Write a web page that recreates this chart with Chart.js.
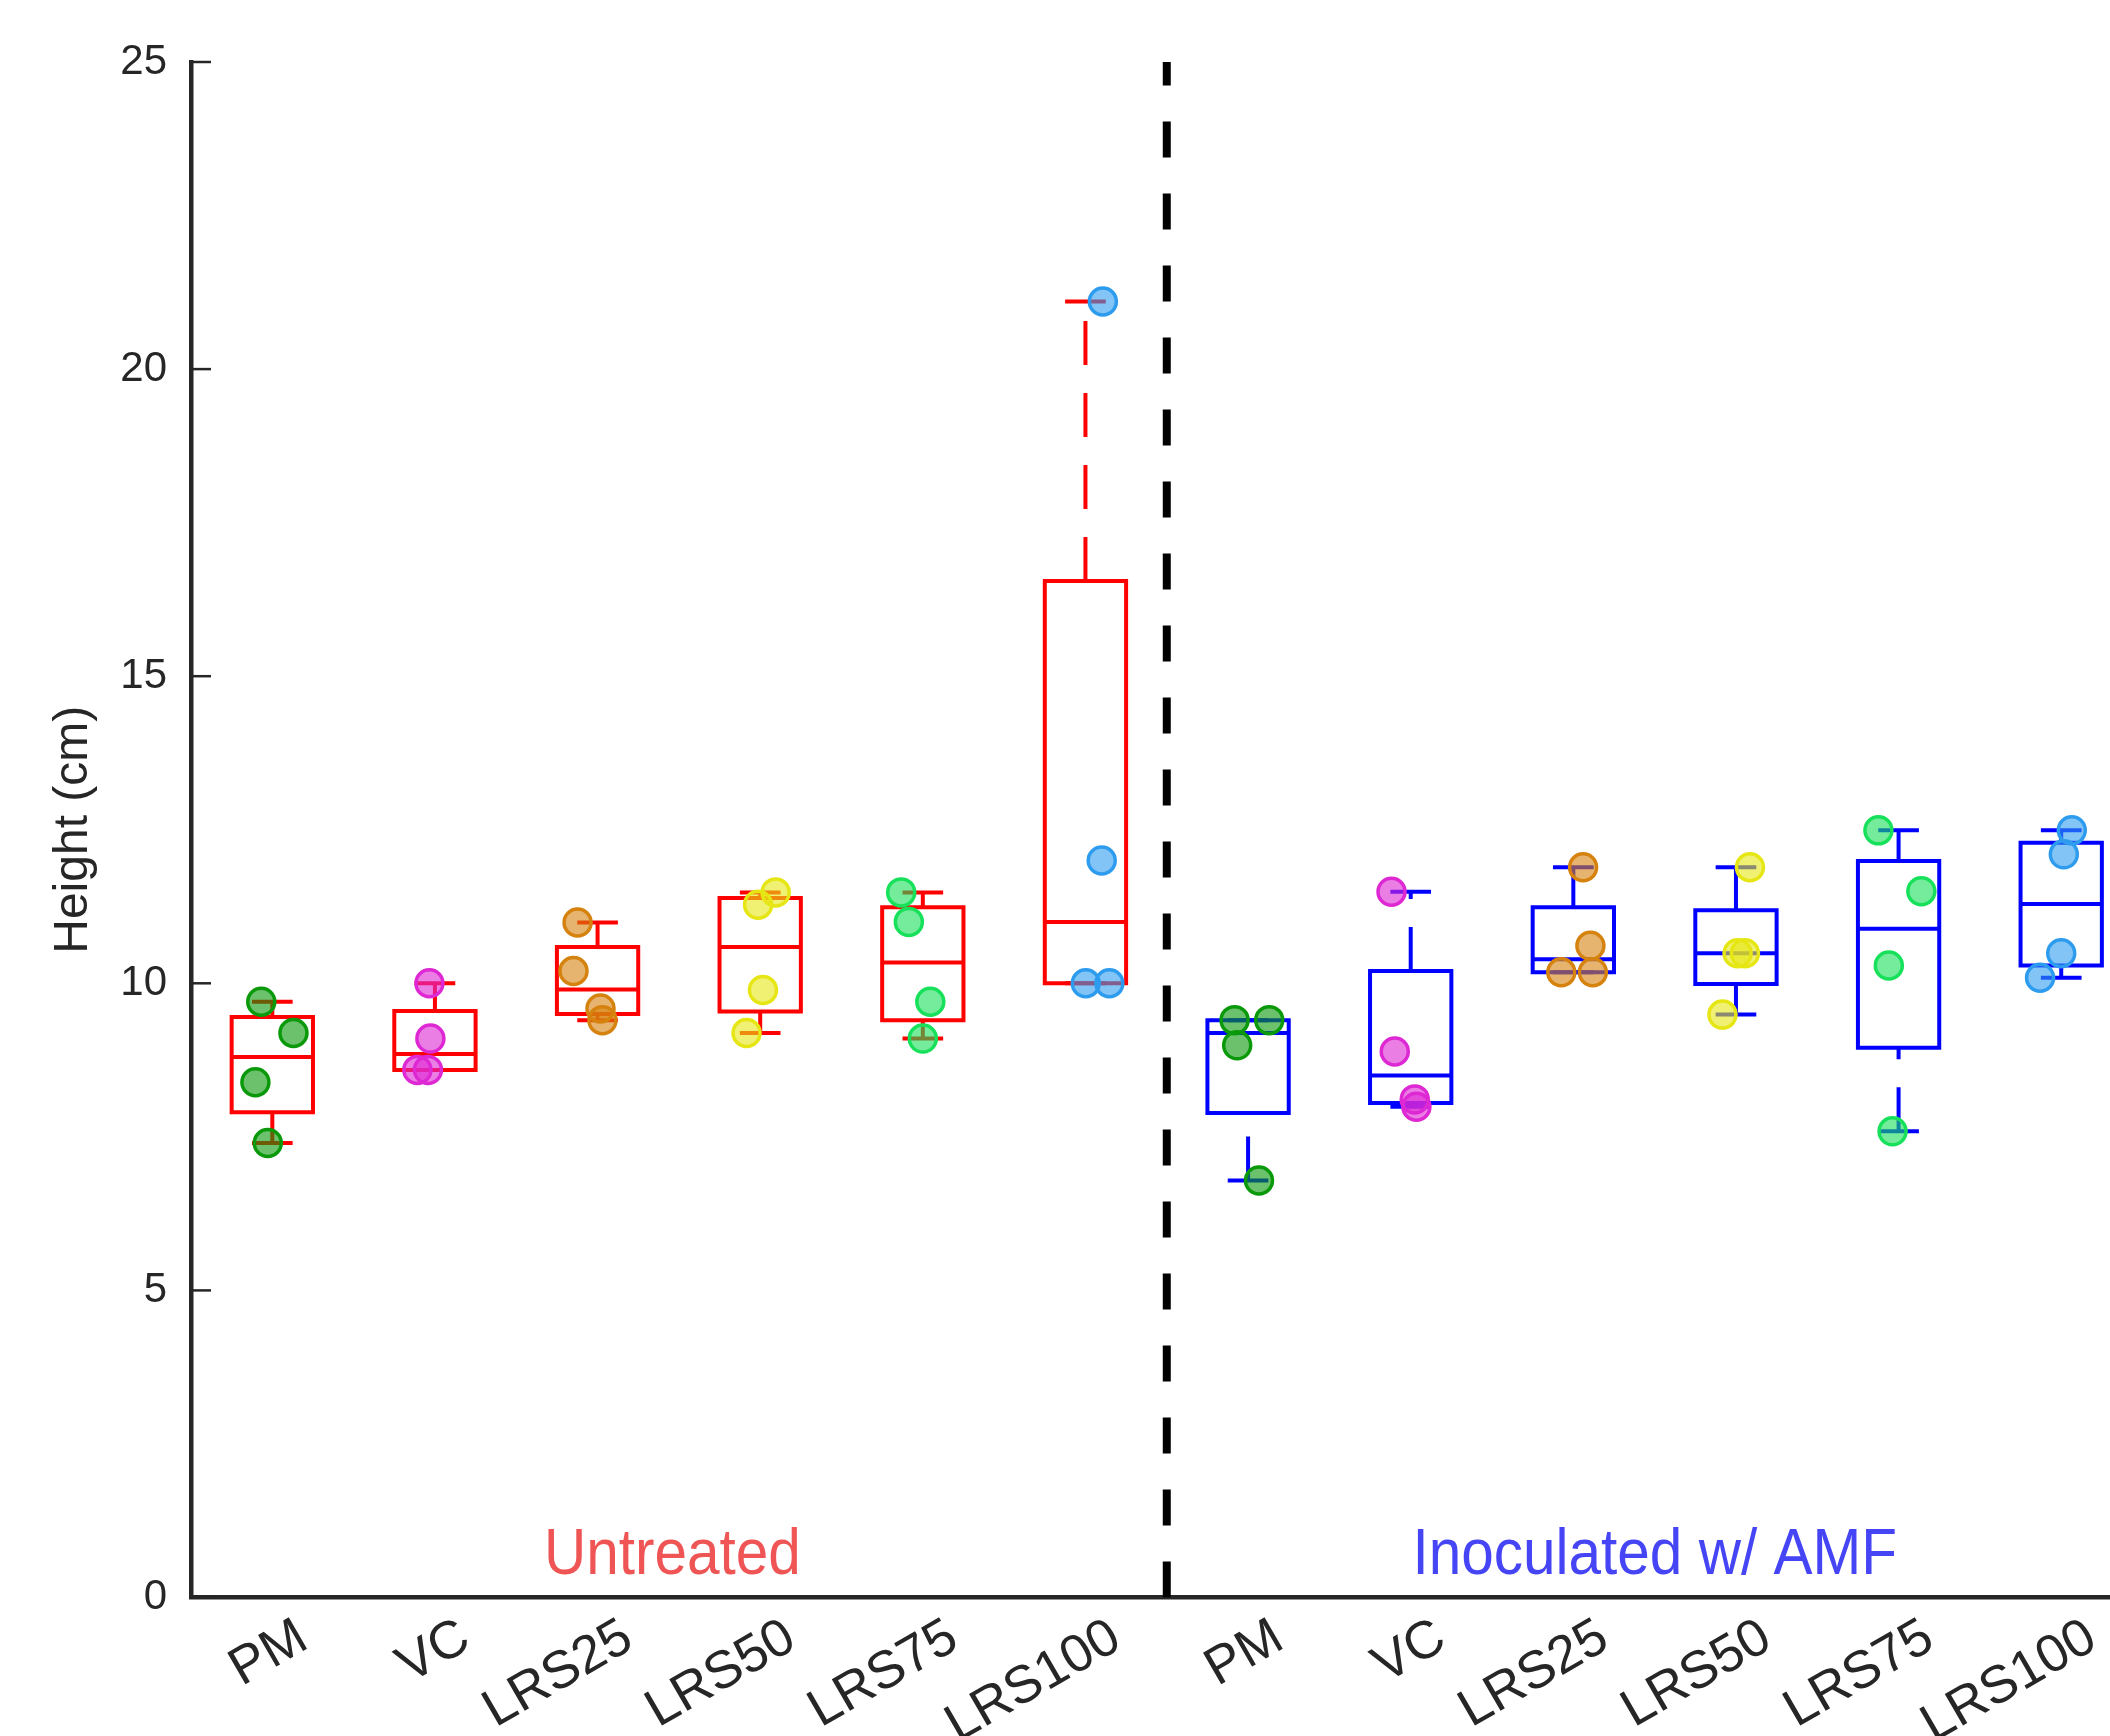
<!DOCTYPE html>
<html>
<head>
<meta charset="utf-8">
<title>Height (cm)</title>
<script src="https://cdn.jsdelivr.net/npm/chart.js@4.4.1/dist/chart.umd.min.js"></script>
<style>
  html, body { margin: 0; padding: 0; background: #fff; overflow: hidden; }
  #wrap { width: 2110px; height: 1736px; }
</style>
</head>
<body>
<div id="wrap"><canvas id="chart" width="2110" height="1736"></canvas></div>
<script>
const categories = ['PM', 'VC', 'LRS25', 'LRS50', 'LRS75', 'LRS100'];
const groupNames = ['Untreated', 'Inoculated w/ AMF'];
const yTicks = [0, 5, 10, 15, 20, 25];

// box summaries, one value per category
const untreatedLow  = [7.40, 8.59, 9.40, 9.19, 9.10, 10.00];
const untreatedQ1   = [7.90, 8.59, 9.50, 9.54, 9.40, 10.00];
const untreatedMed  = [8.80, 8.85, 9.90, 10.59, 10.34, 11.00];
const untreatedQ3   = [9.45, 9.55, 10.59, 11.39, 11.24, 16.55];
const untreatedHigh = [9.70, 10.00, 10.99, 11.48, 11.48, 21.10];

const inoculatedLow  = [6.79, 7.99, 10.18, 9.49, 7.59, 10.09];
const inoculatedQ1   = [7.89, 8.05, 10.18, 9.99, 8.95, 10.29];
const inoculatedMed  = [9.19, 8.50, 10.39, 10.49, 10.89, 11.29];
const inoculatedQ3   = [9.40, 10.20, 11.24, 11.19, 11.99, 12.29];
const inoculatedHigh = [9.40, 11.49, 11.89, 11.89, 12.49, 12.49];

// individual plants (4 per category)
const untreatedPoints = [
  [9.70, 9.19, 8.39, 7.40],
  [10.00, 9.10, 8.59, 8.59],
  [10.99, 10.20, 9.59, 9.40],
  [11.48, 11.28, 9.89, 9.19],
  [11.48, 11.00, 9.70, 9.10],
  [21.10, 12.00, 10.00, 10.00]
];
const inoculatedPoints = [
  [9.40, 9.40, 8.99, 6.79],
  [11.49, 8.89, 8.11, 7.99],
  [11.89, 10.61, 10.18, 10.18],
  [11.89, 10.49, 10.49, 9.49],
  [12.49, 11.50, 10.29, 7.59],
  [12.49, 12.10, 10.49, 10.09]
];
// horizontal jitter of each plant, in category units
const untreatedJitter = [
  [-0.068, 0.13, -0.104, -0.028],
  [-0.034, -0.028, -0.108, -0.043],
  [-0.123, -0.148, 0.018, 0.03],
  [0.095, -0.013, 0.017, -0.084],
  [-0.133, -0.086, 0.046, 0.0],
  [0.107, 0.10, 0.002, 0.147]
];
const inoculatedJitter = [
  [-0.083, 0.13, -0.067, 0.067],
  [-0.118, -0.098, 0.025, 0.035],
  [0.06, 0.105, -0.074, 0.12],
  [0.086, 0.01, 0.055, -0.083],
  [-0.124, 0.14, -0.06, -0.037],
  [0.065, 0.016, 0.0, -0.13]
];

const tickLabels = categories.concat(categories);

const AXIS = '#262626';
const FONT = '"Liberation Sans", Arial, Helvetica, sans-serif';
const boxColors = ['#ff0000', '#0000ff'];
const labelColors = ['#ef5555', '#4545f5'];
const pointEdge = ['#0a990a', '#de28d4', '#d6820e', '#e6e614', '#17e05a', '#2e9cee'];
const HALF_BOX = 0.25;
const HALF_CAP = 0.125;
const groupLabelX = [3.46, 9.5];
const groupLabelY = 0.38;

Chart.defaults.font.family = FONT;

function withAlpha(hex, a) {
  const n = parseInt(hex.slice(1), 16);
  return 'rgba(' + (n >> 16 & 255) + ',' + (n >> 8 & 255) + ',' + (n & 255) + ',' + a + ')';
}

function lineSet(points, color, dash, cap) {
  return {
    data: points,
    showLine: true,
    borderColor: color,
    borderWidth: 4,
    borderDash: dash || [],
    borderCapStyle: cap || 'butt',
    borderJoinStyle: 'miter',
    pointRadius: 0,
    fill: false,
    order: 1
  };
}

const groups = [
  { low: untreatedLow, q1: untreatedQ1, med: untreatedMed, q3: untreatedQ3, high: untreatedHigh,
    pts: untreatedPoints, jit: untreatedJitter, start: 1 },
  { low: inoculatedLow, q1: inoculatedQ1, med: inoculatedMed, q3: inoculatedQ3, high: inoculatedHigh,
    pts: inoculatedPoints, jit: inoculatedJitter, start: 7 }
];

const datasets = [];

groups.forEach((g, gi) => {
  const color = boxColors[gi];
  categories.forEach((cat, i) => {
    const c = g.start + i;
    // box
    datasets.push(lineSet([
      {x: c - HALF_BOX, y: g.q1}, {x: c + HALF_BOX, y: g.q1},
      {x: c + HALF_BOX, y: g.q3}, {x: c - HALF_BOX, y: g.q3},
      {x: c - HALF_BOX, y: g.q1}
    ].map(p => ({x: p.x, y: p.y[i]})), color, null, 'square'));
    // median
    datasets.push(lineSet([{x: c - HALF_BOX, y: g.med[i]}, {x: c + HALF_BOX, y: g.med[i]}], color));
    // whiskers, dashed from the lower end upward like matlab
    datasets.push(lineSet([{x: c, y: g.q3[i]}, {x: c, y: g.high[i]}], color, [44, 28]));
    datasets.push(lineSet([{x: c, y: g.low[i]}, {x: c, y: g.q1[i]}], color, [44, 28]));
    // caps
    datasets.push(lineSet([{x: c - HALF_CAP, y: g.high[i]}, {x: c + HALF_CAP, y: g.high[i]}], color));
    datasets.push(lineSet([{x: c - HALF_CAP, y: g.low[i]}, {x: c + HALF_CAP, y: g.low[i]}], color));
    // plants
    datasets.push({
      data: g.pts[i].map((v, k) => ({x: c + g.jit[i][k], y: v})),
      showLine: false,
      pointRadius: 13.5,
      pointBorderWidth: 3.5,
      pointBackgroundColor: withAlpha(pointEdge[i], 0.6),
      pointBorderColor: pointEdge[i],
      order: 0
    });
  });
});

// separator between the two groups
datasets.push(lineSet([{x: 6.5, y: 0}, {x: 6.5, y: 25}], '#000000', [36, 36]));
datasets[datasets.length - 1].borderWidth = 8;

// inward y ticks and the two group labels
const extras = {
  id: 'extras',
  afterDatasetsDraw(chart) {
    const {ctx, scales: {x, y}} = chart;
    ctx.save();
    ctx.strokeStyle = AXIS;
    ctx.lineWidth = 2.5;
    y.ticks.forEach(t => {
      const py = y.getPixelForValue(t.value);
      ctx.beginPath();
      ctx.moveTo(x.left, py);
      ctx.lineTo(x.left + 20, py);
      ctx.stroke();
    });
    ctx.font = '65px ' + FONT;
    ctx.textAlign = 'center';
    ctx.textBaseline = 'alphabetic';
    groupNames.forEach((name, i) => {
      ctx.save();
      ctx.translate(x.getPixelForValue(groupLabelX[i]), y.getPixelForValue(groupLabelY));
      ctx.scale(0.9, 1);
      ctx.fillStyle = labelColors[i];
      ctx.fillText(name, 0, 0);
      ctx.restore();
    });
    ctx.restore();
  }
};

new Chart(document.getElementById('chart'), {
  type: 'scatter',
  data: { datasets: datasets },
  plugins: [extras],
  options: {
    responsive: false,
    animation: false,
    devicePixelRatio: 1,
    events: [],
    layout: { autoPadding: false, padding: { top: 62, right: 0, bottom: 0, left: 0 } },
    plugins: {
      legend: { display: false },
      tooltip: { enabled: false }
    },
    scales: {
      x: {
        type: 'linear',
        min: 0.5,
        max: 12.3,
        afterBuildTicks: (scale) => {
          scale.ticks = tickLabels.map((t, i) => ({ value: i + 1 }));
        },
        afterFit: (scale) => {
          // axis runs right to the edge of the picture
          scale.height = 138.5;
          scale.paddingLeft = 0;
          scale.paddingRight = 0;
        },
        grid: { display: false, drawTicks: false },
        border: { display: true, color: AXIS, width: 4.5 },
        ticks: {
          autoSkip: false,
          minRotation: 30,
          maxRotation: 30,
          padding: 9,
          labelOffset: 31,
          color: AXIS,
          font: { size: 53 },
          callback: (v) => tickLabels[Math.round(v) - 1]
        }
      },
      y: {
        min: 0,
        max: 25,
        afterBuildTicks: (scale) => {
          scale.ticks = yTicks.map(v => ({ value: v }));
        },
        afterFit: (scale) => { scale.width = 191; },
        grid: { display: false, drawTicks: false },
        border: { display: true, color: AXIS, width: 4.5 },
        ticks: { padding: 24, color: AXIS, font: { size: 42 } },
        title: {
          display: true,
          text: 'Height (cm)',
          color: AXIS,
          font: { size: 48 },
          padding: { top: 45, bottom: 0 }
        }
      }
    }
  }
});
</script>
</body>
</html>
